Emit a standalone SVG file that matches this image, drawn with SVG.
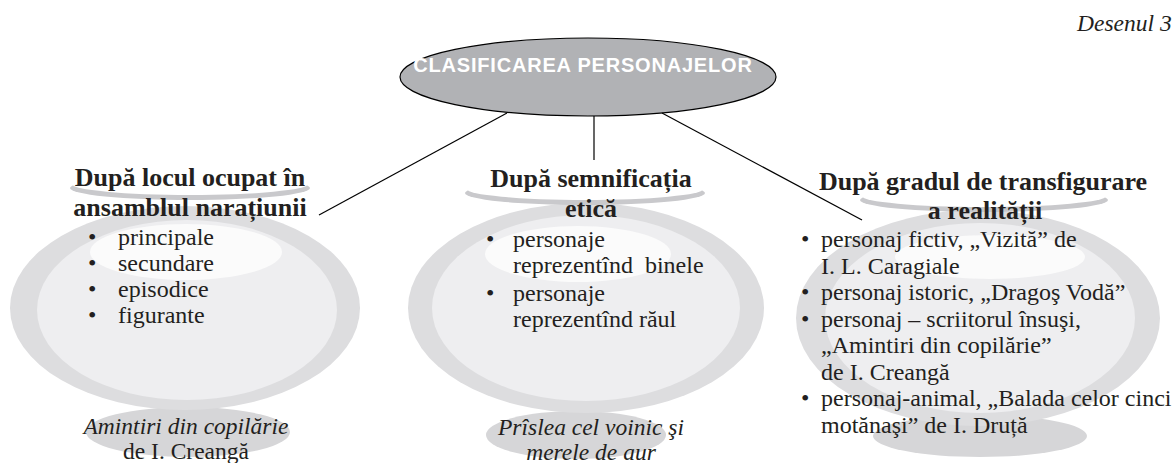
<svg xmlns="http://www.w3.org/2000/svg" width="1175" height="463" viewBox="0 0 1175 463">
<style>
.bg{fill:#ffffff}
.outer{fill:#dddddf}
.inner{fill:#eeeef0}
.hl{fill:#fbfbfb}
.rim{fill:#c9c9cc}
.rimtop{fill:#ffffff}
.foot{fill:#d6d6d8}
.t{font-family:"Liberation Serif","Times New Roman",serif;fill:#231f20}
.h{font-size:26px;font-weight:bold;text-anchor:middle}
.b{font-size:24px}
.c{text-anchor:middle}
.i{font-style:italic;font-size:23.5px}
.conn line{stroke:#000;stroke-width:1.2}
</style>
<rect class="bg" x="0" y="0" width="1175" height="463"/>
<text class="t i" x="1077" y="31" font-size="24">Desenul 3</text>

<g id="root">
  <ellipse cx="588" cy="77" rx="188" ry="39" fill="#b1b2b5" stroke="#000" stroke-width="1.2"/>
  <text x="583" y="72" font-family="Liberation Sans, Arial, sans-serif" font-weight="bold" font-size="20" letter-spacing="0.8" fill="#ffffff" text-anchor="middle">CLASIFICAREA PERSONAJELOR</text>
</g>

<g id="node-left">
  <ellipse class="foot" cx="188" cy="432" rx="102" ry="25"/>
  <ellipse class="outer" cx="185" cy="308" rx="175" ry="102"/>
  <ellipse class="inner" cx="187" cy="310" rx="150" ry="90"/>
  <ellipse class="hl" cx="186" cy="252" rx="96" ry="28"/>
  <ellipse class="rim" cx="190" cy="188" rx="120" ry="12"/>
  <ellipse class="rimtop" cx="190" cy="184" rx="118" ry="11"/>
  <text class="t h" x="190" y="186">După locul ocupat în</text>
  <text class="t h" x="190" y="216">ansamblul narațiunii</text>
  <g class="t b">
    <text x="88" y="245">•</text><text x="118" y="245">principale</text>
    <text x="88" y="271">•</text><text x="118" y="271">secundare</text>
    <text x="88" y="297">•</text><text x="118" y="297">episodice</text>
    <text x="88" y="323">•</text><text x="118" y="323">figurante</text>
  </g>
  <text class="t i c" x="186" y="434">Amintiri din copilărie</text>
  <text class="t c" x="186" y="459" font-size="23.5">de I. Creangă</text>
</g>

<g id="node-middle">
  <ellipse class="foot" cx="576" cy="435" rx="90" ry="24"/>
  <ellipse class="outer" cx="586" cy="308" rx="178" ry="105"/>
  <ellipse class="inner" cx="586" cy="308" rx="154" ry="93"/>
  <ellipse class="hl" cx="578" cy="254" rx="93" ry="28"/>
  <ellipse class="rim" cx="585" cy="193" rx="120" ry="12"/>
  <ellipse class="rimtop" cx="585" cy="189" rx="118" ry="11"/>
  <text class="t h" x="591" y="187">După semnificația</text>
  <text class="t h" x="591" y="217">etică</text>
  <g class="t b">
    <text x="486" y="247">•</text><text x="513" y="247">personaje</text>
    <text x="513" y="273">reprezentînd&#160; binele</text>
    <text x="486" y="301">•</text><text x="513" y="301">personaje</text>
    <text x="513" y="327">reprezentînd răul</text>
  </g>
  <text class="t i c" x="591" y="435">Prîslea cel voinic şi</text>
  <text class="t i c" x="591" y="460">merele de aur</text>
</g>

<g id="node-right">
  <ellipse class="foot" cx="980" cy="436" rx="107" ry="21"/>
  <ellipse class="outer" cx="978" cy="318" rx="182" ry="108"/>
  <ellipse class="inner" cx="980" cy="318" rx="155" ry="95"/>
  <ellipse class="hl" cx="990" cy="257" rx="95" ry="22"/>
  <ellipse class="rim" cx="984" cy="200" rx="124" ry="12"/>
  <ellipse class="rimtop" cx="984" cy="196" rx="122" ry="11"/>
  <text class="t h" x="983" y="190">După gradul de transfigurare</text>
  <text class="t h" x="985" y="219">a realității</text>
  <g class="t b">
    <text x="801" y="247">•</text><text x="821" y="247">personaj fictiv, „Vizită” de</text>
    <text x="821" y="273.5">I. L. Caragiale</text>
    <text x="801" y="300">•</text><text x="821" y="300">personaj istoric, „Dragoş Vodă”</text>
    <text x="801" y="326.5">•</text><text x="821" y="326.5">personaj – scriitorul însuşi,</text>
    <text x="821" y="353">„Amintiri din copilărie”</text>
    <text x="821" y="379.5">de I. Creangă</text>
    <text x="801" y="406">•</text><text x="821" y="406">personaj-animal, „Balada celor cinci</text>
    <text x="821" y="432.5">motănaşi” de I. Druță</text>
  </g>
</g>

<g id="connectors" class="conn">
  <line x1="507" y1="113" x2="319" y2="215"/>
  <line x1="594" y1="116" x2="594" y2="160"/>
  <line x1="662" y1="113" x2="862" y2="220"/>
</g>
</svg>
